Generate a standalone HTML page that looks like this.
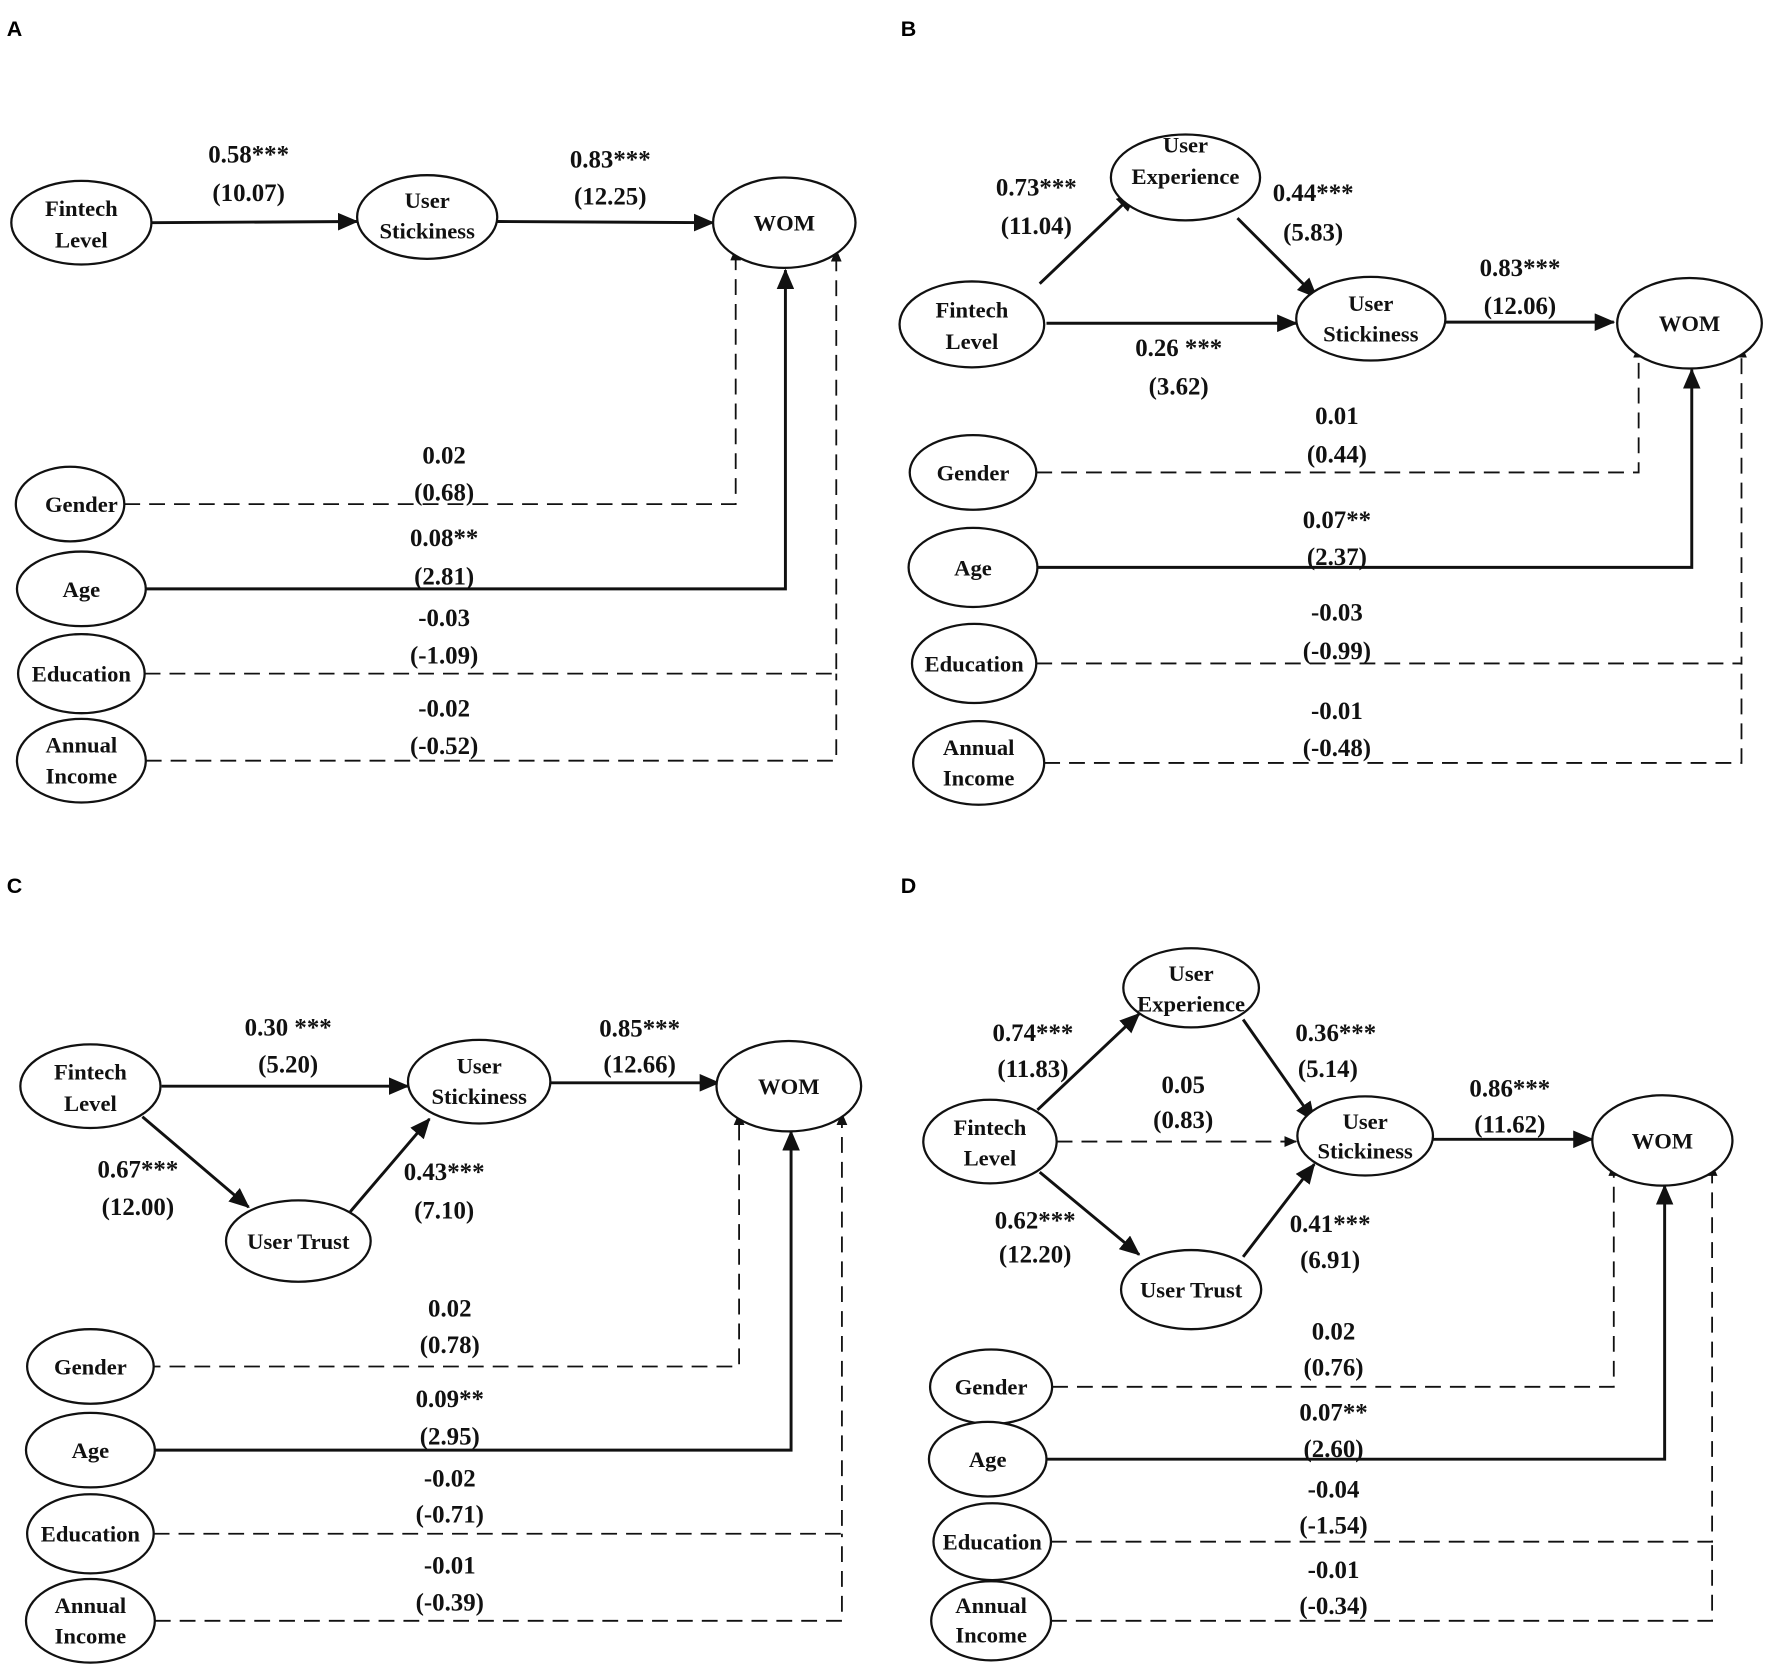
<!DOCTYPE html>
<html><head><meta charset="utf-8"><style>
html,body{margin:0;padding:0;background:#fff;}
svg{display:block;}
.n{font-family:"Liberation Serif",serif;font-weight:bold;font-size:20px;fill:#111;text-anchor:middle;}
.l{font-family:"Liberation Serif",serif;font-weight:bold;font-size:22px;fill:#111;text-anchor:middle;}
.p{font-family:"Liberation Sans",sans-serif;font-weight:bold;font-size:19px;fill:#000;}
ellipse{fill:#fff;stroke:#111;stroke-width:2;}
.s{stroke:#111;stroke-width:2.6;fill:none;}
.d{stroke:#111;stroke-width:1.6;fill:none;stroke-dasharray:14 8;}
</style></head><body>
<svg width="1772" height="1666" viewBox="0 0 1568 1474" preserveAspectRatio="none" xmlns="http://www.w3.org/2000/svg">
<defs>
<marker id="a" markerWidth="7" markerHeight="6" refX="6.5" refY="3" orient="auto" markerUnits="strokeWidth"><path d="M0,0 L7,3 L0,6 z" fill="#111"/></marker>
<marker id="b" markerWidth="7" markerHeight="6" refX="6.5" refY="3" orient="auto" markerUnits="strokeWidth"><path d="M0,0 L7,3 L0,6 z" fill="#111"/></marker>
</defs>

<!-- Panel A -->
<text class="p" x="6" y="32">A</text>
<path class="s" d="M134,197 L316,196" marker-end="url(#a)"/>
<path class="s" d="M440,196 L631,197" marker-end="url(#a)"/>
<path class="d" d="M110,446 L651,446 L651,220" marker-end="url(#b)"/>
<path class="s" d="M129,521 L695,521 L695,239" marker-end="url(#a)"/>
<path class="d" d="M128,596 L740,596 L740,221" marker-end="url(#b)"/>
<path class="d" d="M129,673 L740,673 L740,596"/>
<ellipse cx="72" cy="197" rx="62" ry="37"/><text class="n" x="72" y="191">Fintech</text><text class="n" x="72" y="219">Level</text>
<ellipse cx="378" cy="192" rx="62" ry="37"/><text class="n" x="378" y="184">User</text><text class="n" x="378" y="211">Stickiness</text>
<ellipse cx="694" cy="197" rx="63" ry="40"/><text class="n" x="694" y="204">WOM</text>
<ellipse cx="62" cy="446" rx="48" ry="33"/><text class="n" x="72" y="453">Gender</text>
<ellipse cx="72" cy="521" rx="57" ry="33"/><text class="n" x="72" y="528">Age</text>
<ellipse cx="72" cy="596" rx="56" ry="35"/><text class="n" x="72" y="603">Education</text>
<ellipse cx="72" cy="673" rx="57" ry="37"/><text class="n" x="72" y="666">Annual</text><text class="n" x="72" y="693">Income</text>
<text class="l" x="220" y="144">0.58***</text><text class="l" x="220" y="178">(10.07)</text>
<text class="l" x="540" y="148">0.83***</text><text class="l" x="540" y="181">(12.25)</text>
<text class="l" x="393" y="410">0.02</text><text class="l" x="393" y="443">(0.68)</text>
<text class="l" x="393" y="483">0.08**</text><text class="l" x="393" y="517">(2.81)</text>
<text class="l" x="393" y="554">-0.03</text><text class="l" x="393" y="587">(-1.09)</text>
<text class="l" x="393" y="634">-0.02</text><text class="l" x="393" y="667">(-0.52)</text>

<!-- Panel B -->
<text class="p" x="797" y="32">B</text>
<path class="s" d="M920,251 L1005,170" marker-end="url(#a)"/>
<path class="s" d="M1095,193 L1165,263" marker-end="url(#a)"/>
<path class="s" d="M926,286 L1147,286" marker-end="url(#a)"/>
<path class="s" d="M1279,285 L1428,285" marker-end="url(#a)"/>
<path class="d" d="M917,418 L1450,418 L1450,306" marker-end="url(#b)"/>
<path class="s" d="M918,502 L1497,502 L1497,327" marker-end="url(#a)"/>
<path class="d" d="M917,587 L1541,587 L1541,306" marker-end="url(#b)"/>
<path class="d" d="M924,675 L1541,675 L1541,587"/>
<ellipse cx="1049" cy="157" rx="66" ry="38"/><text class="n" x="1049" y="135">User</text><text class="n" x="1049" y="163">Experience</text>
<ellipse cx="860" cy="287" rx="64" ry="38"/><text class="n" x="860" y="281">Fintech</text><text class="n" x="860" y="309">Level</text>
<ellipse cx="1213" cy="282" rx="66" ry="37"/><text class="n" x="1213" y="275">User</text><text class="n" x="1213" y="302">Stickiness</text>
<ellipse cx="1495" cy="286" rx="64" ry="40"/><text class="n" x="1495" y="293">WOM</text>
<ellipse cx="861" cy="418" rx="56" ry="33"/><text class="n" x="861" y="425">Gender</text>
<ellipse cx="861" cy="502" rx="57" ry="35"/><text class="n" x="861" y="509">Age</text>
<ellipse cx="862" cy="587" rx="55" ry="35"/><text class="n" x="862" y="594">Education</text>
<ellipse cx="866" cy="675" rx="58" ry="37"/><text class="n" x="866" y="668">Annual</text><text class="n" x="866" y="695">Income</text>
<text class="l" x="917" y="173">0.73***</text><text class="l" x="917" y="207">(11.04)</text>
<text class="l" x="1162" y="178">0.44***</text><text class="l" x="1162" y="213">(5.83)</text>
<text class="l" x="1043" y="315">0.26 ***</text><text class="l" x="1043" y="349">(3.62)</text>
<text class="l" x="1345" y="244">0.83***</text><text class="l" x="1345" y="278">(12.06)</text>
<text class="l" x="1183" y="375">0.01</text><text class="l" x="1183" y="409">(0.44)</text>
<text class="l" x="1183" y="467">0.07**</text><text class="l" x="1183" y="500">(2.37)</text>
<text class="l" x="1183" y="549">-0.03</text><text class="l" x="1183" y="583">(-0.99)</text>
<text class="l" x="1183" y="636">-0.01</text><text class="l" x="1183" y="669">(-0.48)</text>

<!-- Panel C -->
<text class="p" x="6" y="790">C</text>
<path class="s" d="M143,961 L361,961" marker-end="url(#a)"/>
<path class="s" d="M487,958 L636,958" marker-end="url(#a)"/>
<path class="s" d="M126,988 L220,1068" marker-end="url(#a)"/>
<path class="s" d="M310,1072 L380,990" marker-end="url(#a)"/>
<path class="d" d="M128,1209 L654,1209 L654,985" marker-end="url(#b)"/>
<path class="s" d="M137,1283 L700,1283 L700,1001" marker-end="url(#a)"/>
<path class="d" d="M136,1357 L745,1357 L745,985" marker-end="url(#b)"/>
<path class="d" d="M137,1434 L745,1434 L745,1357"/>
<ellipse cx="80" cy="961" rx="62" ry="37"/><text class="n" x="80" y="955">Fintech</text><text class="n" x="80" y="983">Level</text>
<ellipse cx="424" cy="957" rx="63" ry="37"/><text class="n" x="424" y="950">User</text><text class="n" x="424" y="977">Stickiness</text>
<ellipse cx="698" cy="961" rx="64" ry="40"/><text class="n" x="698" y="968">WOM</text>
<ellipse cx="264" cy="1098" rx="64" ry="36"/><text class="n" x="264" y="1105">User Trust</text>
<ellipse cx="80" cy="1209" rx="56" ry="33"/><text class="n" x="80" y="1216">Gender</text>
<ellipse cx="80" cy="1283" rx="57" ry="33"/><text class="n" x="80" y="1290">Age</text>
<ellipse cx="80" cy="1357" rx="56" ry="35"/><text class="n" x="80" y="1364">Education</text>
<ellipse cx="80" cy="1434" rx="57" ry="37"/><text class="n" x="80" y="1427">Annual</text><text class="n" x="80" y="1454">Income</text>
<text class="l" x="255" y="916">0.30 ***</text><text class="l" x="255" y="949">(5.20)</text>
<text class="l" x="566" y="917">0.85***</text><text class="l" x="566" y="949">(12.66)</text>
<text class="l" x="122" y="1042">0.67***</text><text class="l" x="122" y="1075">(12.00)</text>
<text class="l" x="393" y="1044">0.43***</text><text class="l" x="393" y="1078">(7.10)</text>
<text class="l" x="398" y="1165">0.02</text><text class="l" x="398" y="1197">(0.78)</text>
<text class="l" x="398" y="1245">0.09**</text><text class="l" x="398" y="1278">(2.95)</text>
<text class="l" x="398" y="1315">-0.02</text><text class="l" x="398" y="1347">(-0.71)</text>
<text class="l" x="398" y="1392">-0.01</text><text class="l" x="398" y="1425">(-0.39)</text>

<!-- Panel D -->
<text class="p" x="797" y="790">D</text>
<path class="s" d="M918,982 L1008,897" marker-end="url(#a)"/>
<path class="s" d="M1100,902 L1163,992" marker-end="url(#a)"/>
<path class="d" d="M935,1010 L1147,1010" marker-end="url(#b)"/>
<path class="s" d="M1268,1008 L1409,1008" marker-end="url(#a)"/>
<path class="s" d="M920,1037 L1008,1110" marker-end="url(#a)"/>
<path class="s" d="M1100,1112 L1163,1030" marker-end="url(#a)"/>
<path class="d" d="M931,1227 L1428,1227 L1428,1030" marker-end="url(#b)"/>
<path class="s" d="M926,1291 L1473,1291 L1473,1049" marker-end="url(#a)"/>
<path class="d" d="M930,1364 L1515,1364 L1515,1030" marker-end="url(#b)"/>
<path class="d" d="M930,1434 L1515,1434 L1515,1364"/>
<ellipse cx="1054" cy="874" rx="60" ry="35"/><text class="n" x="1054" y="868">User</text><text class="n" x="1054" y="895">Experience</text>
<ellipse cx="876" cy="1010" rx="59" ry="37"/><text class="n" x="876" y="1004">Fintech</text><text class="n" x="876" y="1031">Level</text>
<ellipse cx="1208" cy="1005" rx="60" ry="35"/><text class="n" x="1208" y="999">User</text><text class="n" x="1208" y="1025">Stickiness</text>
<ellipse cx="1471" cy="1009" rx="62" ry="40"/><text class="n" x="1471" y="1016">WOM</text>
<ellipse cx="1054" cy="1141" rx="62" ry="35"/><text class="n" x="1054" y="1148">User Trust</text>
<ellipse cx="877" cy="1227" rx="54" ry="33"/><text class="n" x="877" y="1234">Gender</text>
<ellipse cx="874" cy="1291" rx="52" ry="33"/><text class="n" x="874" y="1298">Age</text>
<ellipse cx="878" cy="1364" rx="52" ry="34"/><text class="n" x="878" y="1371">Education</text>
<ellipse cx="877" cy="1434" rx="53" ry="35"/><text class="n" x="877" y="1427">Annual</text><text class="n" x="877" y="1453">Income</text>
<text class="l" x="914" y="921">0.74***</text><text class="l" x="914" y="953">(11.83)</text>
<text class="l" x="1182" y="921">0.36***</text><text class="l" x="1175" y="953">(5.14)</text>
<text class="l" x="1047" y="967">0.05</text><text class="l" x="1047" y="998">(0.83)</text>
<text class="l" x="1336" y="970">0.86***</text><text class="l" x="1336" y="1002">(11.62)</text>
<text class="l" x="916" y="1087">0.62***</text><text class="l" x="916" y="1117">(12.20)</text>
<text class="l" x="1177" y="1090">0.41***</text><text class="l" x="1177" y="1122">(6.91)</text>
<text class="l" x="1180" y="1185">0.02</text><text class="l" x="1180" y="1217">(0.76)</text>
<text class="l" x="1180" y="1257">0.07**</text><text class="l" x="1180" y="1289">(2.60)</text>
<text class="l" x="1180" y="1325">-0.04</text><text class="l" x="1180" y="1357">(-1.54)</text>
<text class="l" x="1180" y="1396">-0.01</text><text class="l" x="1180" y="1428">(-0.34)</text>
</svg>
</body></html>
